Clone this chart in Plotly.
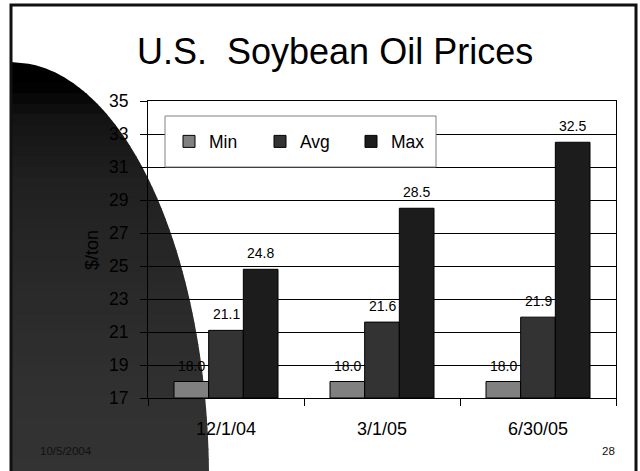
import numpy as np
import plotly.graph_objects as go

# ---- data ----
categories = ["12/1/04", "3/1/05", "6/30/05"]
min_vals = [18.0, 18.0, 18.0]
avg_vals = [21.1, 21.6, 21.9]
max_vals = [24.8, 28.5, 32.5]
series_names = ["Min", "Avg", "Max"]
y_ticks = [17, 19, 21, 23, 25, 27, 29, 31, 33, 35]

W, H = 640, 471
ML, MR, MT, MB = 148, 24, 101, 73
PW, PH = W - ML - MR, H - MT - MB

def px(xp):
    return (xp - ML) / PW

def py(yp):
    return (H - MB - yp) / PH

FONT = "Liberation Sans, Arial, sans-serif"
colors = ["#808080", "#333333", "#1c1c1c"]
series = [min_vals, avg_vals, max_vals]

fig = go.Figure()
for name, vals, c in zip(series_names, series, colors):
    fig.add_trace(go.Bar(
        x=categories, y=[v - 17 for v in vals], base=17, name=name,
        marker=dict(color=c, line=dict(color="#000000", width=1)),
        hoverinfo="skip",
    ))

shapes = []
# decorative dark elliptical shape with vertical gradient (bands)
cx, cy, a, b = 11.0, 480.0, 198.0, 418.0
top = cy - b
stops = [(62, 0), (85, 0), (120, 20), (180, 32), (250, 38), (330, 44), (400, 49), (480, 51)]
def shade(yv):
    ys = [s[0] for s in stops]
    vs = [s[1] for s in stops]
    return int(round(np.interp(yv, ys, vs)))
nb = 40
edges = np.linspace(top, 480, nb + 1)
for i in range(nb):
    y0, y1 = edges[i], min(edges[i + 1] + 1.0, 480)
    ys = np.linspace(y0, y1, 8)
    pts = []
    for yy in ys:
        t = max(0.0, 1 - ((cy - yy) / b) ** 2)
        pts.append((cx + a * np.sqrt(t), yy))
    path = "M %.4f,%.4f " % (px(cx), py(y0))
    for (xx, yy) in pts:
        path += "L %.4f,%.4f " % (px(xx), py(yy))
    path += "L %.4f,%.4f Z" % (px(cx), py(y1))
    g = shade((y0 + y1) / 2)
    col = "rgb(%d,%d,%d)" % (g, g, g)
    shapes.append(dict(type="path", xref="paper", yref="paper", path=path,
                       fillcolor=col, line=dict(width=0), layer="below"))

# slide border
shapes.append(dict(type="rect", xref="paper", yref="paper",
                   x0=px(11), x1=px(636), y0=py(5), y1=py(490),
                   line=dict(color="#111111", width=3), fillcolor="rgba(0,0,0,0)",
                   layer="above"))
# legend box
shapes.append(dict(type="rect", xref="paper", yref="paper",
                   x0=px(165), x1=px(436), y0=py(116), y1=py(167),
                   line=dict(color="#808080", width=1), fillcolor="#ffffff",
                   layer="above"))

annotations = []
annotations.append(dict(text="U.S.  Soybean Oil Prices", xref="paper", yref="paper",
                        x=px(335), y=py(52), xanchor="center", yanchor="middle",
                        showarrow=False, font=dict(family=FONT, size=36, color="#000000")))
annotations.append(dict(text="$/ton", xref="paper", yref="paper",
                        x=px(92), y=py(250), xanchor="center", yanchor="middle",
                        textangle=-90, showarrow=False,
                        font=dict(family=FONT, size=18, color="#000000")))
annotations.append(dict(text="10/5/2004", xref="paper", yref="paper",
                        x=px(38), y=py(451), xanchor="left", yanchor="middle",
                        showarrow=False, font=dict(family=FONT, size=11.5, color="#111111")))
annotations.append(dict(text="28", xref="paper", yref="paper",
                        x=px(617), y=py(451), xanchor="right", yanchor="middle",
                        showarrow=False, font=dict(family=FONT, size=11.5, color="#111111")))

bar_px = PW / len(categories) * (2 / 3) / 3
for i, vals in enumerate(series):
    for cat, v in zip(categories, vals):
        annotations.append(dict(text="%.1f" % v, x=cat, y=v, xref="x", yref="y",
                                xshift=(i - 1) * bar_px, yshift=6,
                                xanchor="center", yanchor="bottom", showarrow=False,
                                font=dict(family=FONT, size=14, color="#000000")))

fig.update_layout(
    width=W, height=H,
    margin=dict(l=ML, r=MR, t=MT, b=MB, autoexpand=False),
    paper_bgcolor="#ffffff", plot_bgcolor="rgba(0,0,0,0)",
    barmode="group", bargap=1/3, bargroupgap=0,
    showlegend=True,
    legend=dict(orientation="h", x=px(169), y=py(141.5), xanchor="left", yanchor="middle",
                bgcolor="rgba(0,0,0,0)", borderwidth=0,
                font=dict(family=FONT, size=17.5, color="#000000"),
                itemwidth=30, entrywidth=46),
    shapes=shapes, annotations=annotations,
    xaxis=dict(type="category", tickson="boundaries", ticks="outside", ticklen=7,
               tickcolor="#000000", showline=True, linecolor="#000000", linewidth=1,
               mirror=True, showgrid=False,
               tickfont=dict(family=FONT, size=18, color="#000000"),
               ticklabelstandoff=14),
    yaxis=dict(range=[17, 35], tickvals=y_ticks, ticks="outside", ticklen=7,
               tickcolor="#000000", showline=True, linecolor="#000000", linewidth=1,
               mirror=True, showgrid=True, gridcolor="#000000", gridwidth=1,
               zeroline=False,
               tickfont=dict(family=FONT, size=17.5, color="#000000"),
               ticklabelstandoff=8),
)

fig.write_html("out.html", config={"displayModeBar": False},
               post_script="document.body.style.margin='0';document.body.style.padding='0';")
